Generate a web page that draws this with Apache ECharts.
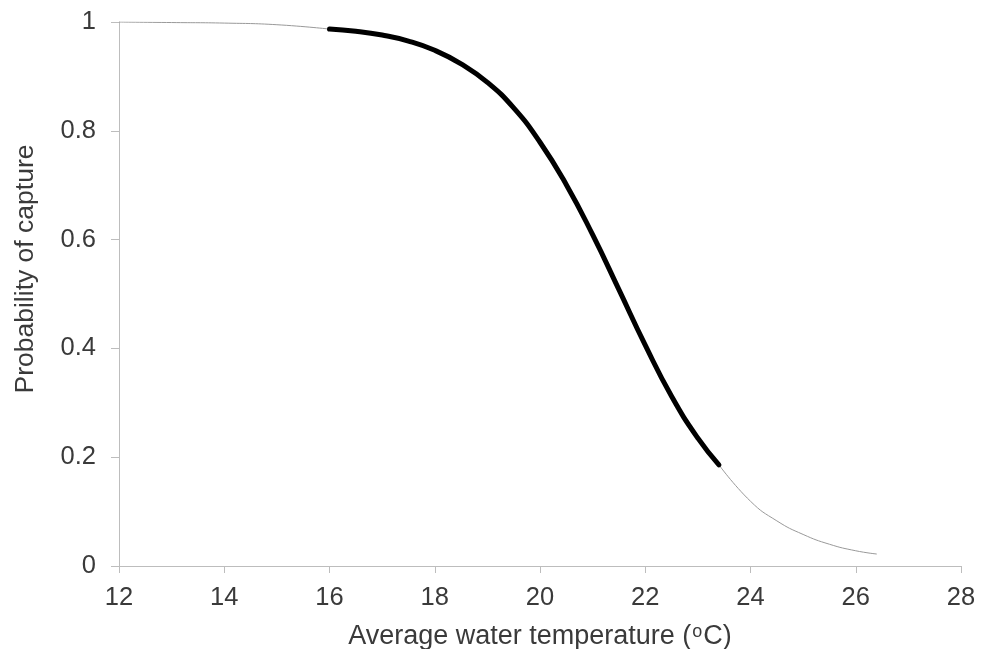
<html>
<meta charset="utf-8">
<body style="margin:0">
    <div id="main" style="width: 990px;height:649px;"></div>
</body>
</html>
<script type="text/javascript" src="https://cdn.jsdelivr.net/npm/echarts@6/dist/echarts.min.js"></script>
<script type="text/javascript">

// values
var lowTemp = [12, 13, 14, 15, 16];
var lowProb = [1.000, 0.999, 0.998, 0.995, 0.987];

var midTemp = [16, 16.5, 17, 17.5, 18, 18.5, 19, 19.5, 20, 20.5, 21, 21.5, 22, 22.5, 23, 23.4];
var midProb = [0.987, 0.983, 0.976, 0.965, 0.948, 0.923, 0.889, 0.842, 0.779, 0.701, 0.609, 0.508, 0.406, 0.312, 0.235, 0.186];

var highTemp = [23.4, 24, 24.5, 25, 25.5, 26, 26.4];
var highProb = [0.186, 0.119, 0.083, 0.058, 0.040, 0.028, 0.022];

var xTicks = [12, 14, 16, 18, 20, 22, 24, 26, 28];
var yTicks = [0, 0.2, 0.4, 0.6, 0.8, 1];

function pairs(xs, ys) {
    var out = [];
    for (var i = 0; i < xs.length; i++) {
        out.push([xs[i], ys[i]]);
    }
    return out;
}

var font = 'Liberation Sans, Arial, sans-serif';
var axisCol = '#bdbdbd';
var txtCol = '#3a3a3a';

var myChart = echarts.init(document.getElementById('main'));
var option = {
    animation: false,
    grid: { left: 119, right: 29, top: 22, bottom: 83, containLabel: false, outerBoundsMode: 'none' },
    xAxis: {
        type: 'value',
        min: xTicks[0],
        max: xTicks[xTicks.length - 1],
        interval: 2,
        name: '{a|Average water temperature (}{s|o}{a|C)}',
        nameLocation: 'middle',
        nameGap: 57,
        nameTextStyle: {
            rich: {
                a: { fontFamily: font, fontSize: 27, color: txtCol },
                s: { fontFamily: font, fontSize: 18, color: txtCol, verticalAlign: 'top', padding: [0, 1, 10, 1] }
            }
        },
        axisLine: { show: true, lineStyle: { color: axisCol, width: 1 } },
        axisTick: { show: true, length: 7, lineStyle: { color: axisCol } },
        axisLabel: { fontFamily: font, fontSize: 25.5, color: txtCol, margin: 19 },
        splitLine: { show: false }
    },
    yAxis: {
        type: 'value',
        min: yTicks[0],
        max: yTicks[yTicks.length - 1],
        interval: 0.2,
        name: 'Probability of capture',
        nameLocation: 'middle',
        nameGap: 80,
        nameTextStyle: { fontFamily: font, fontSize: 26.5, color: txtCol, padding: [0, 0, 0, 50] },
        axisLine: { show: true, lineStyle: { color: axisCol, width: 1 } },
        axisTick: { show: true, length: 8, lineStyle: { color: axisCol } },
        axisLabel: {
            fontFamily: font, fontSize: 25.5, color: txtCol, margin: 23,
            formatter: function (v) { return String(Math.round(v * 10) / 10); }
        },
        splitLine: { show: false }
    },
    series: [
        {
            type: 'line', data: pairs(lowTemp, lowProb), smooth: true, showSymbol: false,
            lineStyle: { color: '#999', width: 1 }, z: 2
        },
        {
            type: 'line', data: pairs(midTemp, midProb), smooth: true, showSymbol: false,
            lineStyle: { color: '#000', width: 5, cap: 'round' }, z: 3
        },
        {
            type: 'line', data: pairs(highTemp, highProb), smooth: true, showSymbol: false,
            lineStyle: { color: '#999', width: 1 }, z: 2
        }
    ]
};
myChart.setOption(option);
</script>
